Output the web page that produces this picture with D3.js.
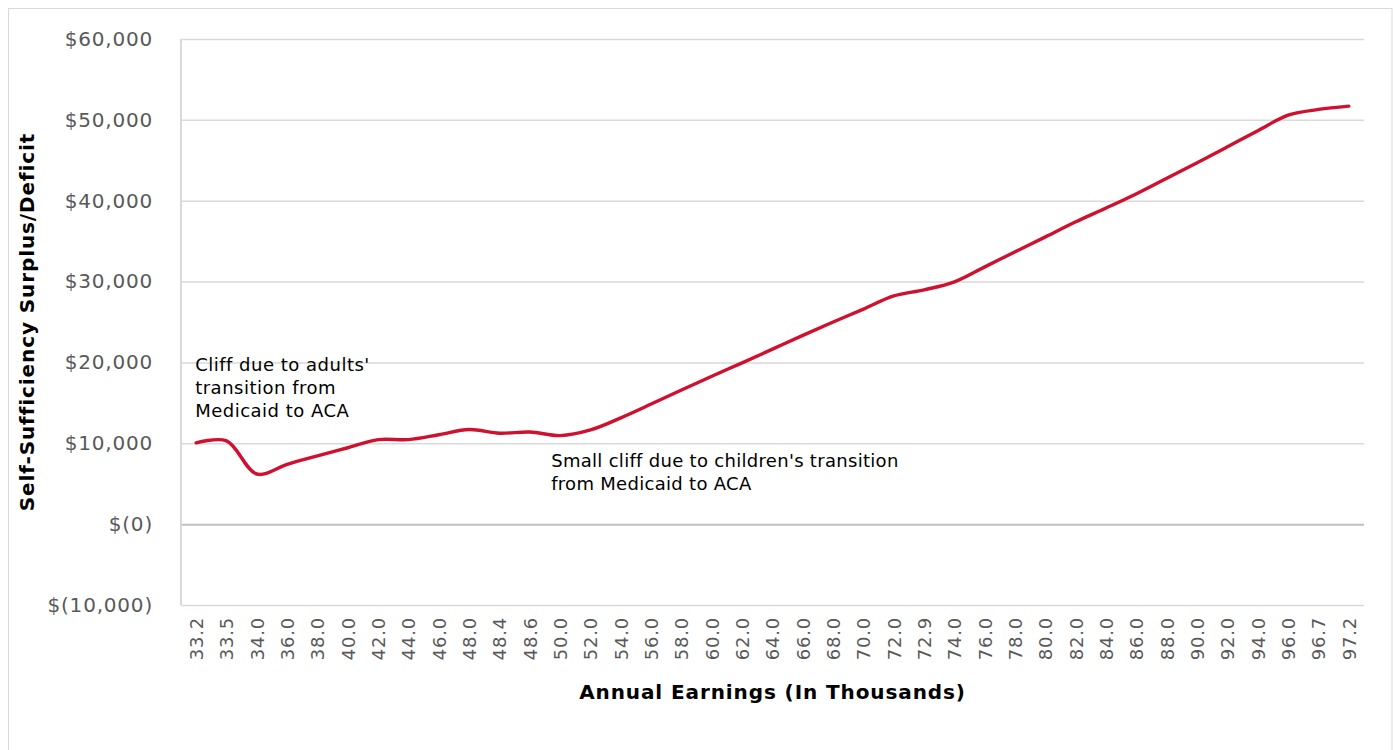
<!DOCTYPE html>
<html>
<head>
<meta charset="utf-8">
<script src="https://cdn.jsdelivr.net/npm/d3@7"></script>
<style>
  html, body { margin: 0; padding: 0; background: #fff; }
  svg { display: block; }
</style>
</head>
<body>
<svg id="chart" width="1393" height="750"></svg>
<script>
// Annual earnings (thousands) along the horizontal axis
const earnings = ["33.2","33.5","34.0","36.0","38.0","40.0","42.0","44.0","46.0","48.0",
  "48.4","48.6","50.0","52.0","54.0","56.0","58.0","60.0","62.0","64.0",
  "66.0","68.0","70.0","72.0","72.9","74.0","76.0","78.0","80.0","82.0",
  "84.0","86.0","88.0","90.0","92.0","94.0","96.0","96.7","97.2"];

// Self-sufficiency surplus/deficit in dollars at each earnings level
const surplus = [10050, 10300, 6200, 7400, 8450, 9450, 10450, 10450, 11050, 11700,
  11250, 11400, 10950, 11650, 13150, 14850, 16600, 18300, 19950, 21650,
  23350, 25000, 26600, 28230, 28980, 29970, 31820, 33680, 35530, 37390,
  39100, 40870, 42790, 44700, 46670, 48660, 50580, 51290, 51700];

// Vertical axis ticks
const yTicks = [-10000, 0, 10000, 20000, 30000, 40000, 50000, 60000];

// Text notes placed on the plot
const notes = [
  { at: "33.2", dx: -1, value: 19000, spacing: 0.5, lines: ["Cliff due to adults'", "transition from", "Medicaid to ACA"] },
  { at: "50.0", dx: -9, value: 7100, spacing: 0.3, lines: ["Small cliff due to children's transition", "from Medicaid to ACA"] }
];

const svg = d3.select("#chart");
const W = 1393, H = 750;
const margin = { left: 181, right: 29, top: 39, bottom: 145 };
const plotW = W - margin.left - margin.right;
const plotH = H - margin.top - margin.bottom;

const fontFace = "Verdana, 'DejaVu Sans', sans-serif";

// Outer frame
svg.append("rect")
  .attr("x", 8.5).attr("y", 8.5)
  .attr("width", 1383.5).attr("height", H)
  .attr("fill", "#fff").attr("stroke", "#d9d9d9").attr("stroke-width", 1);

const x = d3.scalePoint().domain(earnings).range([0, plotW]).padding(0.5);
const y = d3.scaleLinear().domain([-10000, 60000]).range([plotH, 0]);

const g = svg.append("g").attr("transform", `translate(${margin.left},${margin.top})`);

const fmt = v => v === 0 ? "$(0)" : v < 0 ? "$(" + d3.format(",")(-v) + ")" : "$" + d3.format(",")(v);

// Horizontal gridlines and value labels
const yAxis = d3.axisLeft(y).tickValues(yTicks).tickSize(-plotW).tickPadding(28).tickFormat(fmt);
const yg = g.append("g").call(yAxis);
yg.select(".domain").remove();
yg.selectAll(".tick line")
  .attr("stroke", d => d === 0 ? "#bfbfbf" : "#d9d9d9")
  .attr("stroke-width", d => d === 0 ? 2 : 1.5);
yg.selectAll(".tick text")
  .attr("fill", "#595959")
  .style("font-family", fontFace)
  .style("font-size", "20px")
  .style("letter-spacing", "0.8px");

// Left axis line
g.append("line")
  .attr("x1", 0).attr("x2", 0)
  .attr("y1", y(60000)).attr("y2", y(-10000))
  .attr("stroke", "#d9d9d9").attr("stroke-width", 2);

// Category labels, rotated
const xAxis = d3.axisBottom(x).tickSize(0).tickPadding(12);
const xg = g.append("g").attr("transform", `translate(0,${plotH})`).call(xAxis);
xg.select(".domain").remove();
xg.selectAll(".tick text")
  .attr("fill", "#595959")
  .style("font-family", fontFace)
  .style("font-size", "18px")
  .style("letter-spacing", "0.8px")
  .attr("text-anchor", "end")
  .attr("dy", "0.35em")
  .attr("transform", "translate(0,12) rotate(-90)")
  .attr("x", 0).attr("y", 0);

// Surplus line
const line = d3.line()
  .x((d, i) => x(earnings[i]))
  .y(d => y(d))
  .curve(d3.curveCatmullRom.alpha(0.5));

g.append("path")
  .datum(surplus)
  .attr("fill", "none")
  .attr("stroke", "#d0102f")
  .attr("stroke-width", 3.4)
  .attr("stroke-linecap", "round")
  .attr("stroke-linejoin", "round")
  .attr("d", line);

// Notes
notes.forEach(n => {
  const t = g.append("text")
    .attr("x", x(n.at) + n.dx)
    .attr("y", y(n.value))
    .attr("fill", "#000")
    .style("font-family", fontFace)
    .style("font-size", "18px")
    .style("letter-spacing", n.spacing + "px");
  n.lines.forEach((s, i) => {
    t.append("tspan").attr("x", x(n.at) + n.dx).attr("dy", i === 0 ? 0 : 23).text(s);
  });
});

// Axis titles
svg.append("text")
  .attr("transform", `translate(34,322) rotate(-90)`)
  .attr("text-anchor", "middle")
  .attr("fill", "#000")
  .style("font-family", fontFace)
  .style("font-size", "20px")
  .style("letter-spacing", "0.9px")
  .style("font-weight", "bold")
  .text("Self-Sufficiency Surplus/Deficit");

svg.append("text")
  .attr("x", margin.left + plotW / 2)
  .attr("y", 699)
  .attr("text-anchor", "middle")
  .attr("fill", "#000")
  .style("font-family", fontFace)
  .style("font-size", "20px")
  .style("letter-spacing", "0.9px")
  .style("font-weight", "bold")
  .text("Annual Earnings (In Thousands)");
</script>
</body>
</html>
